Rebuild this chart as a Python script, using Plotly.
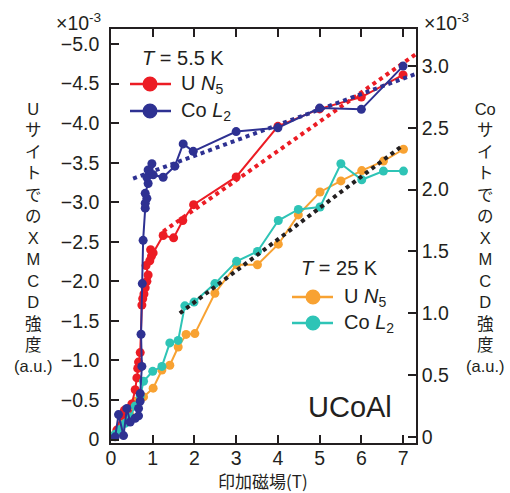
import plotly.graph_objects as go

# ---------------- data (units of 1e-3) ----------------
# T = 5.5 K, U N5 (left axis)
u55_x = [0.06, 0.14, 0.24, 0.32, 0.40, 0.50, 0.58, 0.62, 0.64, 0.66, 0.70, 0.74, 0.76, 0.79,
         0.82, 0.86, 0.89, 0.84, 0.93, 0.97, 0.95, 1.01, 1.25, 1.50, 1.72, 1.98, 3.00, 4.00,
         5.00, 6.00, 7.00]
u55_y = [-0.05, -0.12, -0.30, -0.37, -0.35, -0.45, -0.63, -0.78, -0.90, -0.98, -1.10, -1.70,
         -1.78, -1.84, -1.92, -2.00, -2.08, -2.20, -2.26, -2.32, -2.40, -2.36, -2.58, -2.55,
         -2.77, -2.97, -3.32, -3.96, -4.18, -4.33, -4.61]
# T = 5.5 K, Co L2 (right axis)
co55_x = [0.10, 0.18, 0.30, 0.38, 0.46, 0.58, 0.66, 0.66, 0.70, 0.70, 0.74, 0.72, 0.75, 0.77,
          0.82, 0.82, 0.86, 0.82, 0.89, 0.86, 0.89, 0.98, 1.01, 1.25, 1.53, 1.73, 1.97, 3.00,
          4.00, 5.00, 6.00, 7.00]
co55_y = [0.00, 0.18, 0.01, 0.23, 0.12, 0.15, 0.17, 0.23, 0.29, 0.35, 0.57, 0.83, 1.24, 1.59,
          1.85, 1.89, 1.93, 1.97, 2.05, 2.10, 2.16, 2.21, 2.12, 2.10, 2.19, 2.37, 2.31, 2.47,
          2.50, 2.66, 2.65, 3.00]
# T = 25 K, U N5 (left axis)
u25_x = [0.10, 0.22, 0.34, 0.46, 0.58, 0.78, 1.01, 1.22, 1.41, 1.61, 1.80, 2.01, 2.49, 3.01,
         3.51, 4.01, 4.49, 5.01, 5.51, 6.01, 6.53, 7.01]
u25_y = [-0.06, -0.14, -0.23, -0.31, -0.48, -0.54, -0.65, -0.88, -0.94, -1.17, -1.33, -1.34,
         -1.85, -2.21, -2.21, -2.47, -2.84, -3.13, -3.27, -3.40, -3.52, -3.67]
# T = 25 K, Co L2 (right axis)
co25_x = [0.10, 0.22, 0.34, 0.46, 0.58, 0.70, 0.78, 1.00, 1.22, 1.41, 1.61, 1.77, 1.99, 2.49,
          3.01, 3.51, 4.01, 4.49, 5.01, 5.51, 6.01, 6.53, 7.01]
co25_y = [0.02, 0.06, 0.11, 0.16, 0.25, 0.33, 0.45, 0.53, 0.57, 0.76, 0.78, 1.06, 1.09, 1.24,
          1.42, 1.50, 1.75, 1.84, 1.86, 2.21, 2.08, 2.15, 2.15]
# linear fits (dotted)
fit_u55_x = [1.25, 7.30]
fit_u55_y = [-2.63, -4.87]
fit_co55_x = [0.53, 7.33]
fit_co55_y = [2.09, 2.94]
fit_25_x = [1.65, 7.00]
fit_25_y = [1.00, 2.36]

x_ticks = [0, 1, 2, 3, 4, 5, 6, 7]
left_ticks = [0, -0.5, -1.0, -1.5, -2.0, -2.5, -3.0, -3.5, -4.0, -4.5, -5.0]
left_ticktext = ["0"] + ["\u2212%.1f" % abs(v) for v in left_ticks[1:]]
right_ticks = [0, 0.5, 1.0, 1.5, 2.0, 2.5, 3.0]
right_ticktext = ["0"] + ["%.1f" % v for v in right_ticks[1:]]

left_title = ["U", "サ", "イ", "ト", "で", "の", "X", "M", "C", "D", "強", "度", "(a.u.)"]
right_title = ["Co", "サ", "イ", "ト", "で", "の", "X", "M", "C", "D", "強", "度", "(a.u.)"]
x_title = "印加磁場(T)"

RED = "#ec1c24"
BLUE = "#2e3192"
ORANGE = "#f8a232"
TEAL = "#2ec4b6"
BLACK = "#231f20"

W, H = 510, 493
L, R, T, B = 111, 416, 29, 443   # plot area in pixels


def px2x(px):
    return (px - L) / (R - L)


def py2y(py):
    return (B - py) / (B - T)


FONT = "Liberation Sans, Arial, Noto Sans CJK JP, sans-serif"
CJK = "Noto Sans CJK JP, Liberation Sans, sans-serif"

fig = go.Figure()


def series(x, y, color, axis):
    fig.add_trace(go.Scatter(x=x, y=y, yaxis=axis, mode="lines+markers",
                             line=dict(color=color, width=2),
                             marker=dict(color=color, size=9),
                             showlegend=False, hoverinfo="skip"))


def fit(x, y, color, axis):
    fig.add_trace(go.Scatter(x=x, y=y, yaxis=axis, mode="lines",
                             line=dict(color=color, width=4, dash="4px,4px"),
                             showlegend=False, hoverinfo="skip"))


series(u25_x, u25_y, ORANGE, "y")
series(u55_x, u55_y, RED, "y")
fit(fit_u55_x, fit_u55_y, RED, "y")
series(co25_x, co25_y, TEAL, "y2")
series(co55_x, co55_y, BLUE, "y2")
fit(fit_co55_x, fit_co55_y, BLUE, "y2")
fit(fit_25_x, fit_25_y, BLACK, "y2")

annotations = []
shapes = []


def text(s, px, py, size=20, xanchor="center", font=FONT, color="#231f20"):
    annotations.append(dict(text=s, x=px2x(px), y=py2y(py), xref="paper", yref="paper",
                            xanchor=xanchor, yanchor="middle", showarrow=False,
                            font=dict(size=size, family=font, color=color)))


# multipliers
text("×10<sup>-3</sup>", 103, 22, size=19.5, xanchor="right")
text("×10<sup>-3</sup>", 422, 22, size=19.5, xanchor="left")

# vertical axis titles (stacked characters)
text("<br>".join(left_title), 33, 237, size=16.5)
text("<br>".join(right_title), 485, 237, size=16.5)

# x title
text(x_title, 263, 480.5, size=17, font=CJK)

# sample label
text("UCoAl", 394, 407, size=29, xanchor="right")


def legend_row(py, color, label, x0, x1, xm, xt):
    shapes.append(dict(type="line", xref="paper", yref="paper", x0=px2x(x0), x1=px2x(x1),
                       y0=py2y(py), y1=py2y(py), line=dict(color=color, width=2.5)))
    shapes.append(dict(type="circle", xref="paper", yref="paper", xsizemode="pixel",
                       ysizemode="pixel", xanchor=px2x(xm), yanchor=py2y(py),
                       x0=-7.5, x1=7.5, y0=-7.5, y1=7.5, fillcolor=color, line=dict(width=0)))
    text(label, xt, py, size=20, xanchor="left")


text("<i>T</i> = 5.5 K", 140, 58, size=20, xanchor="left")
legend_row(84, RED, "U <i>N</i><sub>5</sub>", 130, 171, 150, 179)
legend_row(111, BLUE, "Co <i>L</i><sub>2</sub>", 130, 171, 150, 179)
text("<i>T</i> = 25 K", 299, 268, size=20, xanchor="left")
legend_row(297, ORANGE, "U <i>N</i><sub>5</sub>", 292, 333, 313, 342)
legend_row(323, TEAL, "Co <i>L</i><sub>2</sub>", 292, 333, 313, 342)

axis_common = dict(ticks="inside", ticklen=8, tickwidth=1.5, tickcolor=BLACK,
                   showline=True, linecolor=BLACK, linewidth=1.5, showgrid=False,
                   zeroline=False, tickfont=dict(size=19.5, family=FONT, color=BLACK))

fig.update_layout(
    width=W, height=H,
    margin=dict(l=L, r=W - R, t=T, b=H - B, pad=0),
    paper_bgcolor="white", plot_bgcolor="white",
    showlegend=False,
    xaxis=dict(range=[0, 7.31], tickvals=x_ticks, mirror="ticks",
               ticklabelstandoff=-3, **axis_common),
    yaxis=dict(range=[0.043, -5.19], tickvals=left_ticks, ticktext=left_ticktext,
               ticklabelstandoff=6, **axis_common),
    yaxis2=dict(range=[-0.05, 3.30], tickvals=right_ticks, ticktext=right_ticktext,
                overlaying="y", side="right", ticklabelstandoff=0, **axis_common),
    annotations=annotations,
    shapes=shapes,
)

fig.write_html("out.html", config={"displayModeBar": False},
               post_script="document.body.style.margin='0';document.body.style.padding='0';")
